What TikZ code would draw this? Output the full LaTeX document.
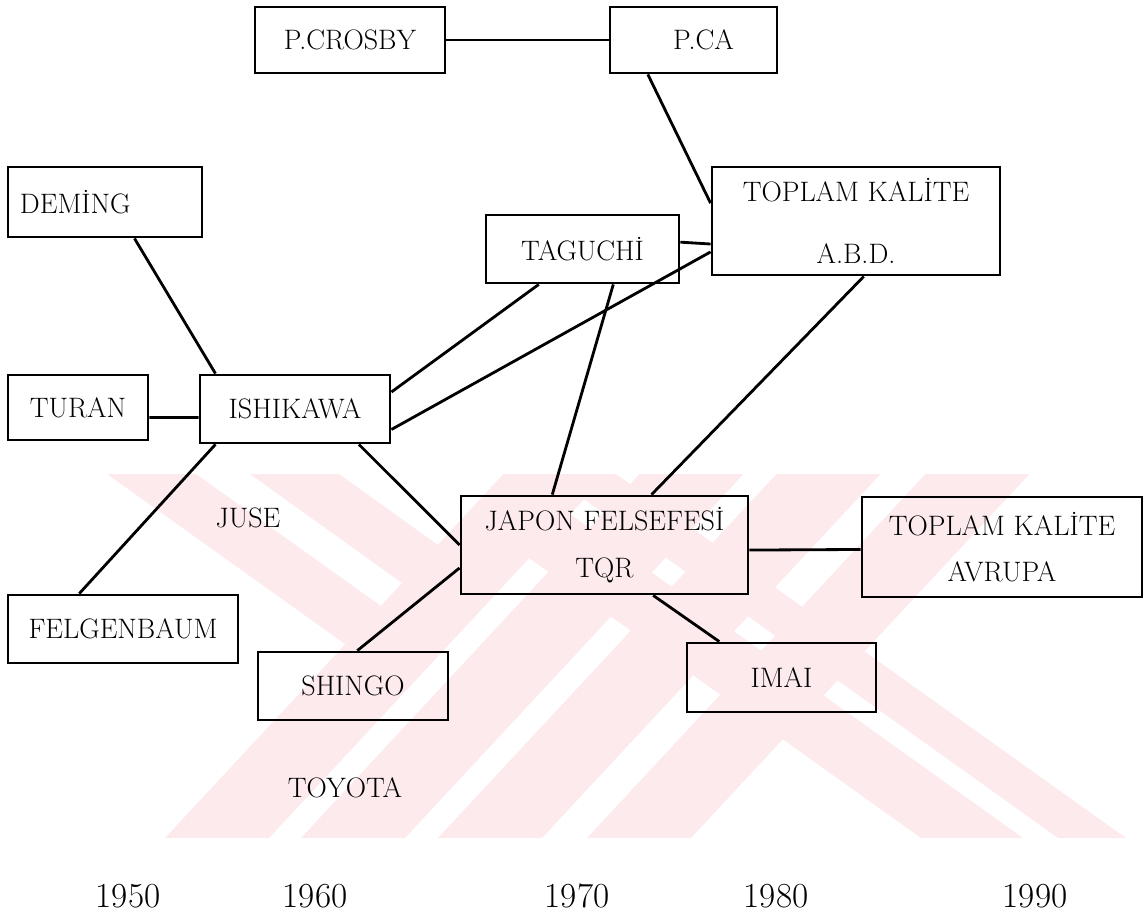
\documentclass[tikz,border=0pt]{standalone}
\usepackage{xcolor}
\usepackage{tikz}

\definecolor{filigrane}{RGB}{252,234,237}

\begin{document}
\begin{tikzpicture}[x=0.025cm, y=-0.025cm,
    font=\fontsize{20}{24}\selectfont,
    boite/.style={draw, line width=2pt, inner sep=0pt, align=center},
    annee/.style={font=\fontsize{25}{30}\selectfont},
    trait/.style={line width=2pt}]
                % Cadre
                \useasboundingbox (0,0) rectangle (1148,918);

                % Filigrane
                \foreach \b in {165,301,438,587}
                    \fill[filigrane] (\b,838) -- ++(104,0) -- ++(338.5,-364) -- ++(-104,0) -- cycle;
                \fill[filigrane] (107,474) -- (196,474) -- (381,606) -- (345,644) -- cycle;
                \fill[filigrane] (250,474) -- (339,474) -- (438,545) -- (402,583) -- cycle;
                \fill[filigrane] (921,838) -- (1023,838) -- (570,514) -- (529,558) -- cycle;
                \fill[filigrane] (1058,838) -- (1126,838) -- (616,474) -- (607.5,474) -- (584,499) -- cycle;

                % Boites
                \node[boite, minimum width=4.75cm, minimum height=1.65cm] (crosby) at (350,40) {P.CROSBY};
                \node[boite, minimum width=4.175cm, minimum height=1.65cm] (pca) at (693.5,40) {\hspace*{0.5cm}P.CA};
                \node[boite, minimum width=4.85cm, minimum height=1.75cm, text width=4.25cm, inner xsep=0.3cm, align=left] (deming) at (105,202) {DEMİNG};
                \node[boite, minimum width=4.825cm, minimum height=1.7cm] (taguchi) at (582.5,249) {TAGUCHİ};
                \node[boite, minimum width=7.2cm, minimum height=2.7cm] (abd) at (856,221) {TOPLAM KALİTE\\[20pt]A.B.D.};
                \node[boite, minimum width=3.5cm, minimum height=1.625cm] (turan) at (78,407.5) {TURAN};
                \node[boite, minimum width=4.75cm, minimum height=1.7cm] (ishikawa) at (295,409) {ISHIKAWA};
                \node[boite, minimum width=7.175cm, minimum height=2.45cm] (japon) at (604.5,545) {JAPON FELSEFESİ\\[9pt]TQR};
                \node[boite, minimum width=7cm, minimum height=2.5cm] (avrupa) at (1002,547) {TOPLAM KALİTE\\[9pt]AVRUPA};
                \node[boite, minimum width=5.75cm, minimum height=1.7cm] (felgenbaum) at (123,629) {FELGENBAUM};
                \node[boite, minimum width=4.75cm, minimum height=1.7cm] (shingo) at (353,686) {SHINGO};
                \node[boite, minimum width=4.725cm, minimum height=1.725cm] (imai) at (781.5,677.5) {IMAI};

                % Textes libres
                \node (juse) at (248,518) {JUSE};
                \node (toyota) at (345,788) {TOYOTA};

                % Annees
                \foreach \an/\x in {1950/128,1960/315,1970/577,1980/776,1990/1035}
                    \node[annee] (a\an) at (\x,896) {\an};

                % Liaisons
                \draw[trait] (crosby.east) -- (pca.west);
                \draw[trait] (pca.217) -- (abd.173);
                \draw[trait] (deming.309) -- (ishikawa.156);
                \draw[trait] (turan.352) -- (ishikawa.185);
                \draw[trait] (ishikawa.204) -- (felgenbaum.141);
                \draw[trait] (ishikawa.10) -- (taguchi.219);
                \draw[trait] (ishikawa.348) -- (abd.192);
                \draw[trait] (taguchi.4) -- (abd.189);
                \draw[trait] (taguchi.311) -- (japon.136);
                \draw[trait] (abd.278) -- (japon.47);
                \draw[trait] (ishikawa.331) -- (japon.west);
                \draw[trait] (japon.189) -- (shingo.83);
                \draw[trait] (japon.358) -- (avrupa.181);
                \draw[trait] (japon.314) -- (imai.150);
            \end{tikzpicture}
\end{document}
